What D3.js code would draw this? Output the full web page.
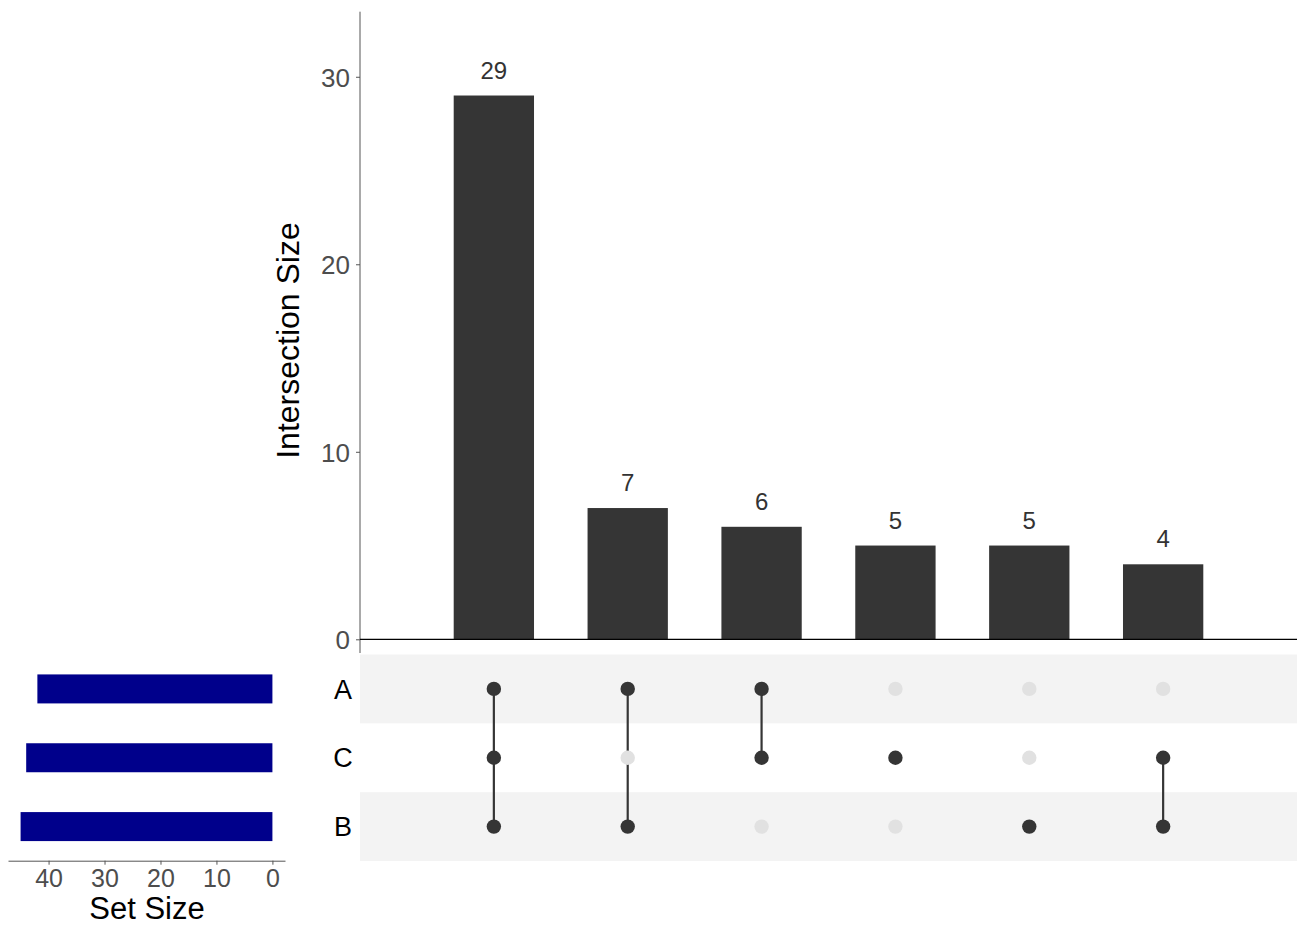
<!DOCTYPE html>
<html>
<head>
<meta charset="utf-8">
<script src="https://cdn.jsdelivr.net/npm/d3@7"></script>
<style>
html,body{margin:0;padding:0;background:#fff;}
svg{display:block;font-family:"Liberation Sans",Arial,sans-serif;}
</style>
</head>
<body>
<svg id="chart" width="1297" height="927"></svg>
<script>
// ---- data ----
const sets = ["A", "C", "B"];
const setSizes = [42, 44, 45];
const intersections = ["A&B&C", "A&B", "A&C", "C", "B", "B&C"];
const intersectionSizes = [29, 7, 6, 5, 5, 4];
const memberships = [["A","C","B"], ["A","B"], ["A","C"], ["C"], ["B"], ["C","B"]];
const yTicks = [0, 10, 20, 30];
const setTicks = [40, 30, 20, 10, 0];

const svg = d3.select("#chart");

// ---- scales ----
const x = d3.scaleLinear().domain([0, intersections.length + 1]).range([360, 1297]);
const y = d3.scaleLinear().domain([0, 33.47]).range([639.3, 11.7]);
const step = x(1) - x(0);
const barW = step * 0.6;

const row = d3.scaleBand().domain(sets).range([654.5, 861]);
const sx = d3.scaleLinear().domain([47.25, -2.25]).range([8, 285]);

// ---- matrix stripes ----
svg.append("g").selectAll("rect")
  .data(sets.filter((d, i) => i % 2 === 0))
  .join("rect")
  .attr("x", 360).attr("width", 1297 - 360)
  .attr("y", d => row(d)).attr("height", row.bandwidth())
  .attr("fill", "#f3f3f3");

// ---- intersection bars ----
svg.append("g").selectAll("rect")
  .data(intersectionSizes)
  .join("rect")
  .attr("x", (d, i) => x(i + 1) - barW / 2)
  .attr("width", barW)
  .attr("y", d => y(d))
  .attr("height", d => y(0) - y(d))
  .attr("fill", "#353535");

svg.append("g").selectAll("text")
  .data(intersectionSizes)
  .join("text")
  .attr("x", (d, i) => x(i + 1))
  .attr("y", d => y(d) - 17)
  .attr("text-anchor", "middle")
  .attr("font-size", 24)
  .attr("fill", "#333")
  .text(d => d);

// y axis
const yAxis = d3.axisLeft(y).tickValues(yTicks).tickSize(4).tickPadding(6).tickSizeOuter(0);
const ya = svg.append("g").attr("transform", "translate(360,0)").call(yAxis);
ya.select(".domain").remove();
ya.append("line").attr("x1", 0).attr("x2", 0).attr("y1", 11.7).attr("y2", 653)
  .attr("stroke", "#555").attr("stroke-width", 1);
ya.selectAll(".tick line").attr("stroke", "#555");
ya.selectAll(".tick text").attr("font-size", 26).attr("fill", "#4d4d4d")
  .attr("font-family", "Liberation Sans, Arial, sans-serif").attr("dy", "0.36em");

// baseline
svg.append("line")
  .attr("x1", 360).attr("x2", 1297).attr("y1", y(0)).attr("y2", y(0))
  .attr("stroke", "#000").attr("stroke-width", 1.3);

// y title
svg.append("text")
  .attr("transform", `translate(299,${(11.7 + 639.3) / 2 + 15}) rotate(-90)`)
  .attr("text-anchor", "middle")
  .attr("font-size", 32)
  .attr("fill", "#000")
  .text("Intersection Size");

// ---- matrix dots ----
const mg = svg.append("g");
intersections.forEach((name, i) => {
  const cx = x(i + 1);
  const mem = memberships[i];
  const ys = mem.map(s => row(s) + row.bandwidth() / 2);
  if (mem.length > 1) {
    mg.append("line")
      .attr("x1", cx).attr("x2", cx)
      .attr("y1", d3.min(ys)).attr("y2", d3.max(ys))
      .attr("stroke", "#353535").attr("stroke-width", 2.2);
  }
  sets.forEach(s => {
    const on = mem.includes(s);
    mg.append("circle")
      .attr("cx", cx).attr("cy", row(s) + row.bandwidth() / 2)
      .attr("r", 7.2)
      .attr("fill", on ? "#353535" : "#e1e1e1");
  });
});

// set labels
svg.append("g").selectAll("text")
  .data(sets)
  .join("text")
  .attr("x", 343)
  .attr("y", d => row(d) + row.bandwidth() / 2)
  .attr("dy", "0.36em")
  .attr("text-anchor", "middle")
  .attr("font-size", 27)
  .attr("fill", "#000")
  .text(d => d);

// ---- set size bars ----
svg.append("g").selectAll("rect")
  .data(setSizes)
  .join("rect")
  .attr("x", d => sx(d))
  .attr("width", d => sx(0) - sx(d))
  .attr("y", (d, i) => row(sets[i]) + row.bandwidth() / 2 - 14.5)
  .attr("height", 29)
  .attr("fill", "#00008B");

const sAxis = d3.axisBottom(sx).tickValues(setTicks).tickSize(4).tickPadding(5).tickSizeOuter(0);
const sa = svg.append("g").attr("transform", "translate(0,860.7)").call(sAxis);
sa.select(".domain").attr("stroke", "#555");
sa.selectAll(".tick line").attr("stroke", "#555");
sa.selectAll(".tick text").attr("font-size", 25).attr("fill", "#4d4d4d")
  .attr("font-family", "Liberation Sans, Arial, sans-serif");

svg.append("text")
  .attr("x", 147).attr("y", 919)
  .attr("text-anchor", "middle")
  .attr("font-size", 31)
  .attr("fill", "#000")
  .text("Set Size");
</script>
</body>
</html>
